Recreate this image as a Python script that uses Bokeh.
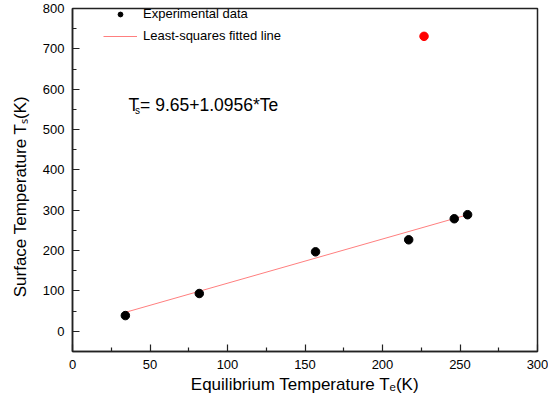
import math
from bokeh.plotting import figure
from bokeh.models import Label, Legend, LegendItem, FixedTicker, Range1d
from bokeh.embed import file_html
from bokeh.resources import INLINE

# ---- data ----
te_exp = [34.1, 81.8, 156.8, 216.9, 246.3, 254.9]      # equilibrium temperature (K)
ts_exp = [39.0, 93.7, 197.0, 226.8, 279.0, 289.0]      # surface temperature (K)
te_out = [226.8]                                        # outlier (red)
ts_out = [731.0]
fit_te = [34.1, 254.9]                                  # least-squares line end points
fit_ts = [47.0, 288.9]
x_major = [0, 50, 100, 150, 200, 250, 300]
x_minor = [25, 75, 125, 175, 225, 275]
y_major = [0, 100, 200, 300, 400, 500, 600, 700, 800]
y_minor = [-50, 50, 150, 250, 350, 450, 550, 650, 750]

FONT = "Liberation Sans"
AX = "#222222"

p = figure(width=548, height=409, output_backend="svg", toolbar_location=None,
           x_range=Range1d(0, 300), y_range=Range1d(-50, 800),
           min_border_left=72, min_border_right=11, min_border_top=8, min_border_bottom=58)
p.grid.visible = False
p.outline_line_color = AX
p.outline_line_width = 1.5
p.background_fill_color = "white"
p.border_fill_color = "white"

for ax in (p.xaxis[0], p.yaxis[0]):
    ax.axis_line_color = AX
    ax.axis_line_width = 1.5
    ax.major_tick_in = 7
    ax.major_tick_out = 0
    ax.minor_tick_in = 4
    ax.minor_tick_out = 0
    ax.major_tick_line_color = AX
    ax.minor_tick_line_color = AX
    ax.major_tick_line_width = 1.2
    ax.minor_tick_line_width = 1.2
    ax.major_label_text_font = FONT
    ax.major_label_text_font_size = "13px"
    ax.major_label_text_color = "black"
    ax.major_label_standoff = 8
    ax.axis_label_text_font = FONT
    ax.axis_label_text_font_size = "17px"
    ax.axis_label_text_font_style = "normal"
    ax.axis_label_text_color = "black"

p.xaxis[0].axis_label = "Equilibrium Temperature T\u2091(K)"
p.yaxis[0].axis_label = "Surface Temperature T\u209b(K)" + "\u00a0" * 7
p.xaxis[0].axis_label_standoff = 3
p.yaxis[0].axis_label_standoff = 10

p.xaxis[0].ticker = FixedTicker(ticks=x_major, minor_ticks=x_minor)
p.yaxis[0].ticker = FixedTicker(ticks=y_major, minor_ticks=y_minor)

r_line = p.line(fit_te, fit_ts, line_color="#ff7f7f", line_width=1)
r_pts = p.scatter(te_exp, ts_exp, size=8.5, fill_color="black", line_color="black")
p.scatter(te_out, ts_out, size=8.5, fill_color="#ff0000", line_color="#ff0000")

legend = Legend(items=[LegendItem(label="Experimental data", renderers=[r_pts]),
                       LegendItem(label="Least-squares fitted line", renderers=[r_line])],
                location=(31, 308), border_line_color=None, background_fill_alpha=0,
                padding=0, margin=0, spacing=7, glyph_width=34, glyph_height=12,
                label_height=12, label_standoff=6, label_text_font=FONT,
                label_text_font_size="13px", label_text_color="black")
p.add_layout(legend)

def lab(x, y, text, size):
    p.add_layout(Label(x=x, y=y, text=text, text_font=FONT, text_font_size=size,
                       text_color="black", text_align="left", text_baseline="alphabetic"))

# equation
lab(36.1, 561.5, "T", "17.5px")
lab(40.3, 546.6, "s", "10px")
lab(43.6, 561.5, "= 9.65+1.0956*Te", "17.5px")

open("out.html", "w").write(file_html(p, INLINE))
